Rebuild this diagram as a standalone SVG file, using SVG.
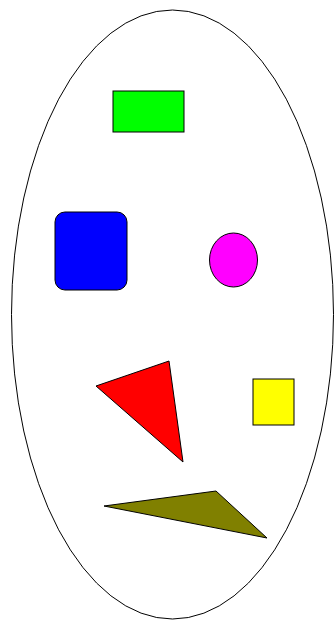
<svg xmlns="http://www.w3.org/2000/svg" width="335" height="621" viewBox="0 0 335 621">
<style>
.s{stroke:#000;stroke-width:1}
</style>
<rect width="335" height="621" fill="#fff"/>
<g id="ellipse"><ellipse class="s" cx="172.5" cy="314.5" rx="161" ry="304.5" fill="none"/></g>
<g id="green-rect"><rect class="s" x="113" y="91" width="71" height="41" fill="#00ff00"/></g>
<g id="blue-rect"><rect class="s" x="55" y="212" width="72" height="78" rx="10" fill="#0000ff"/></g>
<g id="magenta-circle"><ellipse class="s" cx="233.5" cy="260" rx="24" ry="27" fill="#ff00ff"/></g>
<g id="red-triangle"><polygon class="s" points="96,386 169,361 183,462" fill="#ff0000"/></g>
<g id="yellow-square"><rect class="s" x="253" y="379" width="41" height="46" fill="#ffff00"/></g>
<g id="olive-triangle"><polygon class="s" points="104,506 216,491 267,538" fill="#808000"/></g>
<g id="connectors"></g>
</svg>
